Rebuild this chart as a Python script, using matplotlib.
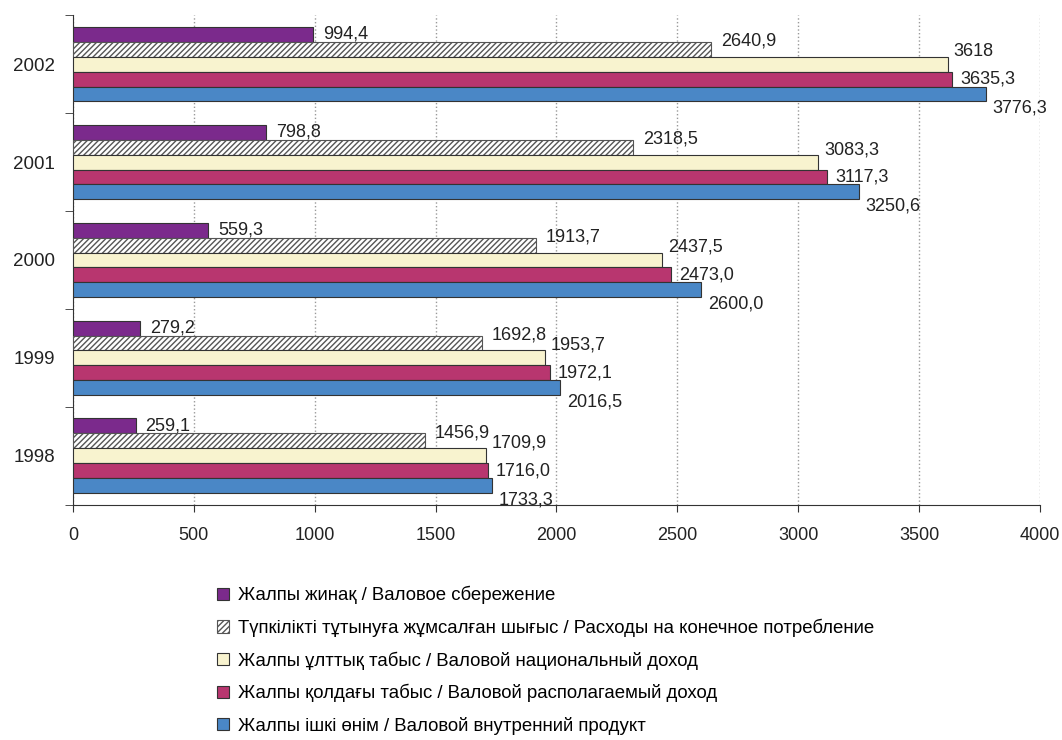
import matplotlib.pyplot as plt
import numpy as np

plt.rcParams['font.family'] = ['Liberation Sans', 'DejaVu Sans']

years = ['1998', '1999', '2000', '2001', '2002']
savings = [259.1, 279.2, 559.3, 798.8, 994.4]
consumption = [1456.9, 1692.8, 1913.7, 2318.5, 2640.9]
national_income = [1709.9, 1953.7, 2437.5, 3083.3, 3618]
disposable_income = [1716.0, 1972.1, 2473.0, 3117.3, 3635.3]
gdp = [1733.3, 2016.5, 2600.0, 3250.6, 3776.3]
value_labels = [
    ['259,1', '279,2', '559,3', '798,8', '994,4'],
    ['1456,9', '1692,8', '1913,7', '2318,5', '2640,9'],
    ['1709,9', '1953,7', '2437,5', '3083,3', '3618'],
    ['1716,0', '1972,1', '2473,0', '3117,3', '3635,3'],
    ['1733,3', '2016,5', '2600,0', '3250,6', '3776,3'],
]
series_names = [
    'Жалпы жинақ / Валовое сбережение',
    'Түпкілікті тұтынуға жұмсалған шығыс / Расходы на конечное потребление',
    'Жалпы ұлттық табыс / Валовой национальный доход',
    'Жалпы қолдағы табыс / Валовой располагаемый доход',
    'Жалпы ішкі өнім / Валовой внутренний продукт',
]

colors = ['#7b2a8c', 'white', '#f8f3cf', '#b8366f', '#4a87c6']
hatches = [None, '//////', None, None, None]
# label offsets in points (dx, dy) for each series
offsets = [(7, 0), (7, 6), (4, 9), (6, 0), (5, -10)]

fig = plt.figure(figsize=(10.62, 7.40), dpi=100)
ax = fig.add_axes([0.0687, 0.3176, 0.9105, 0.6621])

series = [savings, consumption, national_income, disposable_income, gdp]
y = np.arange(len(years))
bar_h = 0.153
handles = []
plt.rcParams['hatch.color'] = '#555555'
for i, vals in enumerate(series):
    pos = y + (2 - i) * bar_h
    if hatches[i]:
        b = ax.barh(pos, vals, height=bar_h, color='white', edgecolor='#555555',
                    hatch=hatches[i], linewidth=0.8, zorder=3)
    else:
        b = ax.barh(pos, vals, height=bar_h, color=colors[i], edgecolor='#333333',
                    linewidth=0.8, zorder=3)
    handles.append(b)
    for j, v in enumerate(vals):
        ax.annotate(value_labels[i][j], (v, pos[j]), xytext=offsets[i],
                    textcoords='offset points', ha='left', va='center',
                    fontsize=13, color='#222222')

ax.set_xlim(0, 4000)
ax.set_ylim(-0.5, 4.5)
ax.set_xticks(np.arange(0, 4001, 500))
ax.set_yticks(y)
ax.set_yticklabels(years)
ax.set_yticks(np.arange(-0.5, 4.6, 1), minor=True)
ax.tick_params(axis='y', which='major', length=0, pad=13, labelsize=13.5,
               labelcolor='#222222')
ax.tick_params(axis='y', which='minor', length=6, direction='out', color='#333333')
ax.tick_params(axis='x', length=5, direction='out', pad=11, labelsize=13,
               color='#333333', labelcolor='#222222')
ax.xaxis.grid(True, linestyle=':', color='#999999', linewidth=1, zorder=0)
for s in ['top', 'right']:
    ax.spines[s].set_visible(False)
ax.spines['left'].set_color('#333333')
ax.spines['bottom'].set_color('#333333')

fig.legend(handles, series_names, loc='upper left', bbox_to_anchor=(0.197, 0.218),
           frameon=False, fontsize=13.4, handlelength=0.65, handleheight=0.65,
           handletextpad=0.5, labelspacing=0.77, borderaxespad=0)

fig.savefig('out.png', dpi=100)
